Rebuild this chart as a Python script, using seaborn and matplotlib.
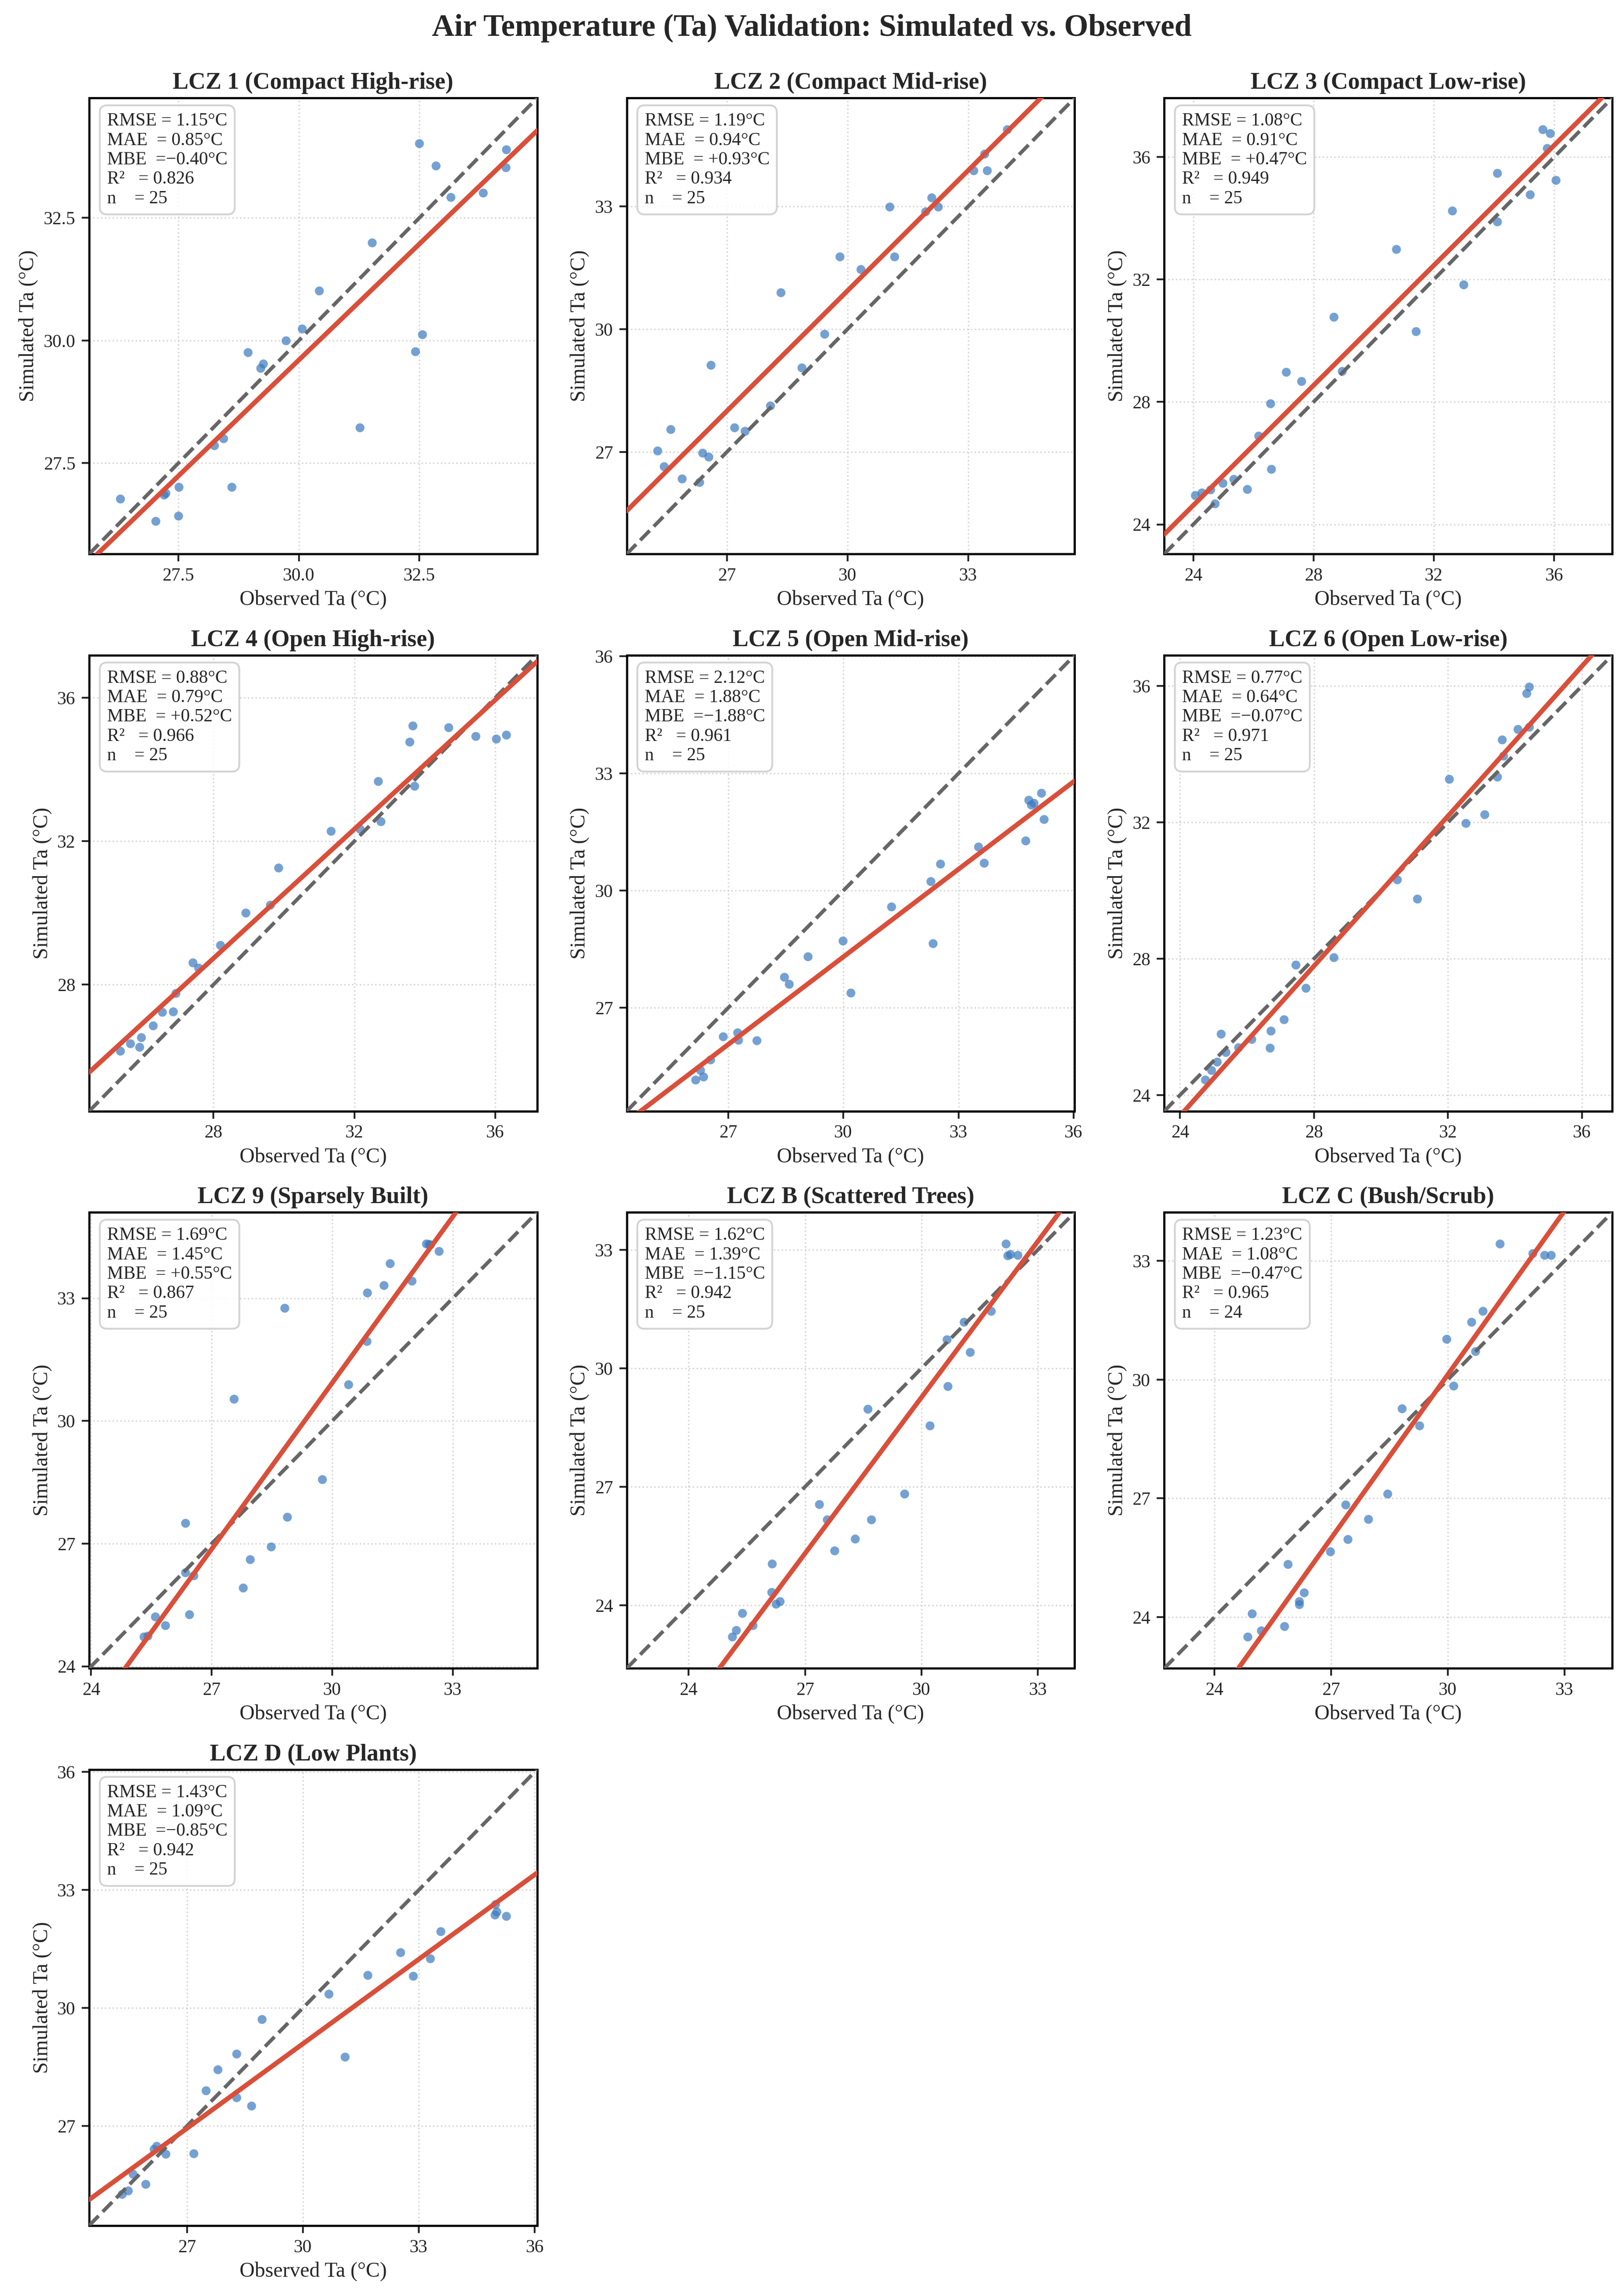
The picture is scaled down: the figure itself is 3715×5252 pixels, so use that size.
import numpy as np
import matplotlib
matplotlib.use("Agg")
import matplotlib.pyplot as plt
from matplotlib.ticker import MaxNLocator
import seaborn as sns

# ── data ─────────────────────────────────────────────────────────────────────
TITLES = [
    "LCZ 1 (Compact High-rise)", "LCZ 2 (Compact Mid-rise)", "LCZ 3 (Compact Low-rise)",
    "LCZ 4 (Open High-rise)", "LCZ 5 (Open Mid-rise)", "LCZ 6 (Open Low-rise)",
    "LCZ 9 (Sparsely Built)", "LCZ B (Scattered Trees)", "LCZ C (Bush/Scrub)",
    "LCZ D (Low Plants)",
]

OBS_1 = [26.29, 27.03, 27.24, 27.20, 27.51, 27.50, 28.24, 28.43, 28.61, 28.94, 29.20, 29.26, 29.73,
         30.07, 30.42, 31.26, 31.52, 32.41, 32.56, 32.50, 32.84, 33.15, 33.82, 34.30, 34.29]
SIM_1 = [26.77, 26.32, 26.89, 26.85, 27.01, 26.43, 27.86, 28.00, 27.01, 29.76, 29.44, 29.53, 30.00,
         30.24, 31.01, 28.23, 31.99, 29.78, 30.12, 34.02, 33.56, 32.92, 33.01, 33.89, 33.53]

OBS_2 = [25.28, 25.44, 25.60, 25.89, 26.32, 26.40, 26.55, 26.60, 27.19, 27.45, 28.08, 28.34, 28.86,
         29.43, 29.81, 30.33, 31.05, 31.17, 31.94, 32.09, 32.25, 33.14, 33.47, 33.41, 33.97]
SIM_2 = [27.03, 26.65, 27.56, 26.35, 26.27, 26.98, 26.89, 29.13, 27.60, 27.51, 28.13, 30.90, 29.06,
         29.89, 31.77, 31.47, 32.99, 31.77, 32.88, 33.22, 32.99, 33.88, 33.88, 34.28, 34.88]

OBS_3 = [24.06, 24.28, 24.57, 24.72, 24.98, 25.34, 25.79, 26.17, 26.56, 26.59, 27.09, 27.59, 28.67,
         28.94, 30.75, 31.40, 32.61, 32.99, 34.11, 34.11, 35.20, 35.62, 35.87, 35.77, 36.06]
SIM_3 = [24.95, 25.04, 25.14, 24.68, 25.35, 25.48, 25.15, 26.89, 27.95, 25.81, 28.98, 28.68, 30.78,
         29.01, 32.99, 30.30, 34.24, 31.84, 35.48, 33.89, 34.77, 36.90, 36.77, 36.29, 35.24]

OBS_4 = [25.35, 25.64, 25.90, 25.95, 26.29, 26.54, 26.85, 26.93, 27.41, 27.58, 28.19, 28.92, 29.61,
         29.85, 31.33, 32.16, 32.68, 32.75, 33.57, 33.66, 33.70, 34.67, 35.44, 36.02, 36.31]
SIM_4 = [26.15, 26.36, 26.26, 26.53, 26.86, 27.24, 27.25, 27.76, 28.61, 28.47, 29.10, 30.01, 30.22,
         31.26, 32.28, 32.34, 33.67, 32.55, 34.77, 35.22, 33.54, 35.17, 34.93, 34.85, 34.96]

OBS_5 = [26.15, 26.27, 26.35, 26.53, 26.86, 27.24, 27.26, 27.74, 28.46, 28.58, 29.07, 29.99, 30.19,
         31.25, 32.27, 32.33, 32.53, 33.52, 33.66, 34.75, 34.83, 34.90, 34.96, 35.16, 35.22]
SIM_5 = [25.16, 25.40, 25.24, 25.67, 26.27, 26.37, 26.18, 26.17, 27.79, 27.61, 28.31, 28.72, 27.38,
         29.59, 30.24, 28.65, 30.69, 31.12, 30.71, 31.28, 32.32, 32.20, 32.24, 32.50, 31.83]

OBS_6 = [24.75, 24.93, 25.11, 25.22, 25.37, 25.74, 26.13, 26.69, 26.71, 27.10, 27.45, 27.76, 28.59,
         30.48, 31.08, 32.04, 32.53, 33.09, 33.47, 33.61, 33.65, 34.09, 34.42, 34.34, 34.43]
SIM_6 = [24.45, 24.73, 24.97, 25.79, 25.25, 25.40, 25.64, 25.39, 25.89, 26.22, 27.82, 27.14, 28.04,
         30.32, 29.76, 33.27, 31.98, 32.23, 33.34, 34.43, 33.95, 34.73, 34.79, 35.78, 35.98]

OBS_9 = [25.31, 25.41, 25.59, 25.84, 26.44, 26.34, 26.55, 26.34, 27.55, 27.78, 27.95, 28.48, 28.88,
         28.81, 29.75, 30.40, 30.86, 30.87, 31.28, 31.44, 31.98, 32.34, 32.44, 32.40, 32.65]
SIM_9 = [24.72, 24.74, 25.21, 25.00, 25.27, 26.29, 26.22, 27.50, 30.54, 25.92, 26.62, 26.93, 27.65,
         32.76, 28.57, 30.89, 31.95, 33.14, 33.32, 33.85, 33.42, 34.33, 34.31, 34.32, 34.15]

OBS_B = [25.12, 25.22, 25.38, 25.65, 26.15, 26.14, 26.25, 26.35, 27.36, 27.57, 27.76, 28.29, 28.62,
         28.70, 29.56, 30.21, 30.68, 30.65, 31.09, 31.25, 31.79, 32.18, 32.22, 32.29, 32.48]
SIM_B = [23.20, 23.37, 23.80, 23.49, 25.05, 24.33, 24.03, 24.10, 26.56, 26.17, 25.38, 25.68, 28.97,
         26.17, 26.82, 28.55, 29.55, 30.73, 31.17, 30.41, 31.45, 33.15, 32.85, 32.89, 32.86]

OBS_C = [24.85, 24.96, 25.20, 25.79, 25.89, 26.18, 26.18, 26.30, 26.97, 27.37, 27.43, 27.95, 28.45,
         28.82, 29.27, 29.96, 30.15, 30.71, 30.61, 30.90, 31.34, 32.18, 32.48, 32.65]
SIM_C = [23.50, 24.09, 23.66, 23.77, 25.34, 24.40, 24.32, 24.62, 25.66, 26.84, 25.97, 26.47, 27.12,
         29.27, 28.84, 31.02, 29.84, 30.71, 31.46, 31.73, 33.43, 33.19, 33.15, 33.14]

OBS_D = [25.32, 25.48, 25.60, 25.93, 26.14, 26.21, 26.45, 27.17, 27.49, 27.80, 28.28, 28.28, 28.67,
         28.94, 30.67, 31.09, 31.67, 32.52, 32.85, 33.29, 33.56, 34.97, 35.01, 34.98, 35.26]
SIM_D = [25.27, 25.36, 25.78, 25.52, 26.41, 26.49, 26.29, 26.30, 27.90, 28.43, 27.72, 28.84, 27.51,
         29.71, 30.36, 28.76, 30.83, 31.41, 30.81, 31.26, 31.95, 32.37, 32.45, 32.63, 32.33]

OBS = [OBS_1, OBS_2, OBS_3, OBS_4, OBS_5, OBS_6, OBS_9, OBS_B, OBS_C, OBS_D]
SIM = [SIM_1, SIM_2, SIM_3, SIM_4, SIM_5, SIM_6, SIM_9, SIM_B, SIM_C, SIM_D]

RMSE = [1.15, 1.19, 1.08, 0.88, 2.12, 0.77, 1.69, 1.62, 1.23, 1.43]
MAE  = [0.85, 0.94, 0.91, 0.79, 1.88, 0.64, 1.45, 1.39, 1.08, 1.09]
MBE  = [-0.40, 0.93, 0.47, 0.52, -1.88, -0.07, 0.55, -1.15, -0.47, -0.85]
R2   = [0.826, 0.934, 0.949, 0.966, 0.961, 0.971, 0.867, 0.942, 0.965, 0.942]

# ── style ─────────────────────────────────────────────────────────────────────
sns.set_style("ticks")
plt.rcParams["font.family"] = ["Liberation Serif", "DejaVu Serif"]
plt.rcParams["axes.unicode_minus"] = True

PT_COLOR  = "#3a7abf"
FIT_COLOR = "#d94f3a"
ONE_COLOR = "#666666"

fig, axes = plt.subplots(4, 3, figsize=(3715 / 300, 5252 / 300))
plt.subplots_adjust(left=0.0549, right=0.9927, top=0.9573, bottom=0.0307,
                    wspace=0.20, hspace=0.222)

for i, ax in enumerate(axes.flat):
    if i >= len(OBS):
        ax.axis("off")
        continue
    obs = np.array(OBS[i]); sim = np.array(SIM[i])
    lo = min(obs.min(), sim.min()); hi = max(obs.max(), sim.max())
    pad = 0.08 * (hi - lo)
    lo, hi = lo - pad, hi + pad

    sns.scatterplot(x=obs, y=sim, ax=ax, s=24, color=PT_COLOR, alpha=0.7,
                    linewidth=0, zorder=2)
    ax.plot([lo, hi], [lo, hi], ls="--", lw=2, color=ONE_COLOR, zorder=3)
    slope, icpt = np.polyfit(obs, sim, 1)
    xs = np.array([lo, hi])
    ax.plot(xs, slope * xs + icpt, color=FIT_COLOR, lw=2.6, zorder=4)

    ax.set_xlim(lo, hi); ax.set_ylim(lo, hi)
    loc_steps = [1, 2, 2.5, 3, 4, 5, 10]
    ax.xaxis.set_major_locator(MaxNLocator(nbins=4, steps=loc_steps))
    ax.yaxis.set_major_locator(MaxNLocator(nbins=4, steps=loc_steps))
    ax.grid(True, ls=":", lw=0.8, color="#cccccc", alpha=0.8)
    ax.tick_params(labelsize=10, width=1, length=4)
    for sp in ax.spines.values():
        sp.set_linewidth(1.2); sp.set_color("black")

    ax.set_title(TITLES[i], fontsize=13, fontweight="bold", pad=5)
    ax.set_xlabel("Observed Ta (°C)", fontsize=11.5, labelpad=3)
    ax.set_ylabel("Simulated Ta (°C)", fontsize=11.5, labelpad=3)

    mbe = MBE[i]
    mbe_s = f"= +{mbe:.2f}" if mbe >= 0 else f"=\u2212{abs(mbe):.2f}"
    txt = (f"RMSE = {RMSE[i]:.2f}°C\n"
           f"MAE  = {MAE[i]:.2f}°C\n"
           f"MBE  {mbe_s}°C\n"
           f"R²   = {R2[i]:.3f}\n"
           f"n    = {len(obs)}")
    ax.text(0.04, 0.968, txt, transform=ax.transAxes, va="top", ha="left",
            fontsize=10, zorder=5,
            bbox=dict(boxstyle="round,pad=0.4", facecolor="white",
                      edgecolor="#cccccc", alpha=0.85))

fig.suptitle("Air Temperature (Ta) Validation: Simulated vs. Observed",
             fontsize=17, fontweight="bold", y=0.9844, va="baseline")

fig.savefig("out.png", dpi=300)
